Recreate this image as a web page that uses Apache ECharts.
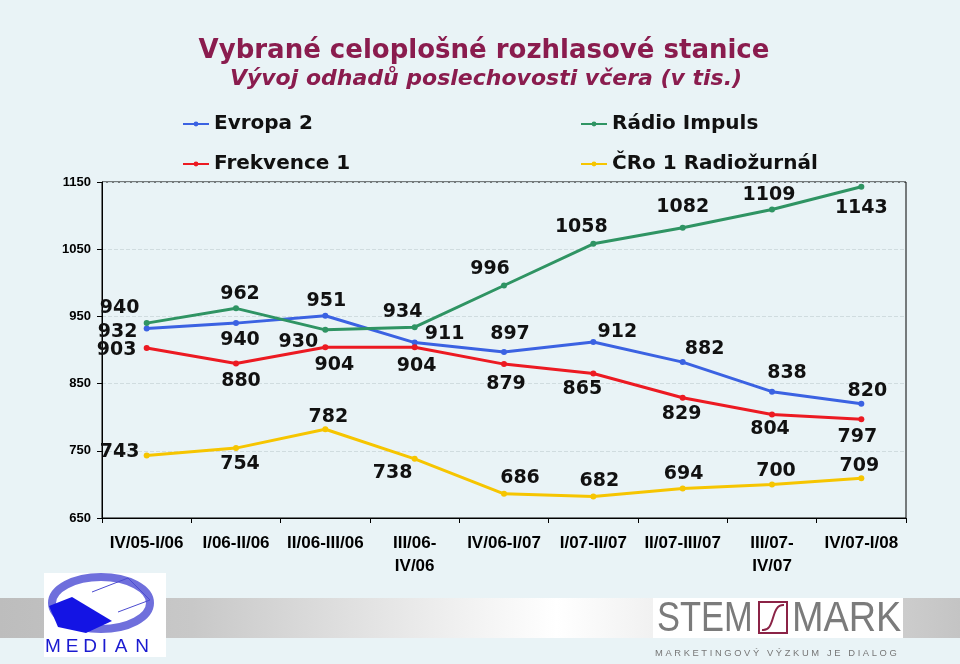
<!DOCTYPE html>
<html><head><meta charset="utf-8">
<script src="https://cdn.jsdelivr.net/npm/echarts@6/dist/echarts.min.js"></script>
<style>html,body{margin:0;padding:0;background:#e9f3f6;}#c{width:960px;height:664px;}</style>
</head><body><div id="c"></div>
<script>
// ---- data ----
const categories = ['IV/05-I/06','I/06-II/06','II/06-III/06','III/06-IV/06','IV/06-I/07','I/07-II/07','II/07-III/07','III/07-IV/07','IV/07-I/08'];
const evropa2 = [932, 940, 951, 911, 897, 912, 882, 838, 820];
const radioImpuls = [940, 962, 930, 934, 996, 1058, 1082, 1109, 1143];
const frekvence1 = [903, 880, 904, 904, 879, 865, 829, 804, 797];
const cro1 = [743, 754, 782, 738, 686, 682, 694, 700, 709];
const yTicks = [650, 750, 850, 950, 1050, 1150];
const seriesNames = ['Evropa 2', 'Rádio Impuls', 'Frekvence 1', 'ČRo 1 Radiožurnál'];

// ---- label placement (style only) ----
const evropaOff = [[-29,4],[4,17],[1,-15],[30,-9],[6,-18],[24,-10],[22,-13],[15,-19],[6,-13]];
const impulsOff = [[-27,-15],[4,-14],[-27,12],[-12,-15],[-14,-16],[-12,-17],[0,-21],[-3,-14],[0,21]];
const frekOff = [[-30,2],[5,18],[9,18],[2,19],[2,20],[-11,16],[-1,16],[-2,15],[-4,18]];
const croOff = [[-27,-3],[4,16],[3,-12],[-22,14],[16,-16],[6,-15],[1,-14],[4,-13],[-2,-12]];

const colors = {'Evropa 2':'#3b62e2','Rádio Impuls':'#2f9463','Frekvence 1':'#ec1a22','ČRo 1 Radiožurnál':'#f6c500'};

function mkSeries(name, values, offs){
  return {
    name: name, type: 'line', symbol: 'circle', symbolSize: 6,
    itemStyle: {color: colors[name]},
    lineStyle: {color: colors[name], width: 3},
    label: {show: true, position: 'inside', fontFamily: 'DejaVu Sans', fontWeight: 'bold', fontSize: 19, color: '#111'},
    emphasis: {disabled: true},
    data: values.map((v, i) => ({value: v, label: {offset: offs[i]}}))
  };
}

const legendText = {fontFamily: 'DejaVu Sans', fontWeight: 'bold', fontSize: 20, color: '#111', lineHeight: 20};
const fontAx = 'Liberation Sans';

const medianLetters = ['M','E','D','I','A','N'];
const medianX = [53, 72, 90, 104.5, 121, 142];

const option = {
  backgroundColor: '#e9f3f6',
  animation: false,
  legend: [
    {data: ['Evropa 2','Frekvence 1'], orient: 'vertical', left: 182, top: 114, padding: 0, itemGap: 20, itemWidth: 26, itemHeight: 6, textStyle: legendText, selectedMode: false},
    {data: ['Rádio Impuls','ČRo 1 Radiožurnál'], orient: 'vertical', left: 580, top: 114, padding: 0, itemGap: 20, itemWidth: 26, itemHeight: 6, textStyle: legendText, selectedMode: false}
  ],
  grid: {left: 102, right: 54, top: 182, bottom: 146, show: true, borderColor: '#000', borderWidth: 1, backgroundColor: 'transparent'},
  xAxis: {
    type: 'category', data: categories, boundaryGap: true,
    axisLine: {lineStyle: {color: '#000', width: 1}},
    axisTick: {show: true, length: 5, lineStyle: {color: '#000'}},
    axisLabel: {interval: 0, margin: 14, fontFamily: fontAx, fontWeight: 'bold', fontSize: 17, color: '#000', lineHeight: 23,
      formatter: v => v.startsWith('III/') ? v.replace('-', '-\n') : v}
  },
  yAxis: {
    type: 'value', min: 650, max: 1150,
    axisLine: {show: true, lineStyle: {color: '#000', width: 1}},
    axisTick: {show: true, length: 5, lineStyle: {color: '#000'}, customValues: yTicks},
    axisLabel: {customValues: yTicks, margin: 11, fontFamily: fontAx, fontWeight: 'bold', fontSize: 13, color: '#000',
      formatter: v => String(v)},
    splitLine: {show: true, lineStyle: {color: '#d0dcdf', type: 'dashed', width: 1}}
  },
  series: [
    mkSeries('Evropa 2', evropa2, evropaOff),
    mkSeries('Rádio Impuls', radioImpuls, impulsOff),
    mkSeries('Frekvence 1', frekvence1, frekOff),
    mkSeries('ČRo 1 Radiožurnál', cro1, croOff)
  ],
  graphic: [
    {type: 'text', x: 484, y: 51, style: {text: 'Vybrané celoplošné rozhlasové stanice', font: 'bold 26px "DejaVu Sans"', fill: '#8a1c4e', textAlign: 'center', textVerticalAlign: 'middle'}},
    {type: 'text', x: 486, y: 79, style: {text: 'Vývoj odhadů poslechovosti včera (v tis.)', font: 'italic bold 22px "DejaVu Sans"', fill: '#8a1c4e', textAlign: 'center', textVerticalAlign: 'middle'}},
    // grey band behind logos
    {type: 'rect', z: -1, shape: {x: 0, y: 598, width: 960, height: 40},
      style: {fill: new echarts.graphic.LinearGradient(0, 0, 1, 0, [
        {offset: 0, color: '#bdbdbd'}, {offset: 0.2, color: '#c8c8c8'}, {offset: 0.58, color: '#ffffff'},
        {offset: 0.9, color: '#d2d2d2'}, {offset: 1, color: '#c4c4c4'}])}},
    // MEDIAN logo
    {type: 'rect', shape: {x: 44, y: 573, width: 122, height: 84}, style: {fill: '#ffffff'}},
    {type: 'ellipse', shape: {cx: 101, cy: 603, rx: 49, ry: 26}, style: {fill: '#ffffff', stroke: '#6f6fdc', lineWidth: 8}},
    {type: 'polygon', shape: {points: [[49,606],[72,597],[112,621],[86,633],[58,627]]}, style: {fill: '#1414e4'}},
    {type: 'polyline', shape: {points: [[92,592],[128,578],[150,600],[118,612]]}, style: {stroke: '#4b4bd0', lineWidth: 1, fill: 'none'}},
    ...medianLetters.map((ch, i) => ({type: 'text', x: medianX[i], y: 647, style: {text: ch, font: '19px "Liberation Sans"', fill: '#1a1ad0', textAlign: 'center', textVerticalAlign: 'middle'}})),
    // STEM MARK logo
    {type: 'rect', shape: {x: 653, y: 598, width: 250, height: 40}, style: {fill: '#ffffff'}},
    {type: 'text', x: 657, y: 619, scaleX: 0.82, style: {text: 'STEM', font: '42px "Liberation Sans"', fill: '#7b7b7b', textVerticalAlign: 'middle'}},
    {type: 'rect', shape: {x: 759, y: 602, width: 28, height: 31}, style: {fill: '#ffffff', stroke: '#8b2346', lineWidth: 2}},
    {type: 'bezierCurve', shape: {x1: 762, y1: 630, cpx1: 776, cpy1: 632, cpx2: 770, cpy2: 604, x2: 784, y2: 605}, style: {stroke: '#8b2346', lineWidth: 2, fill: 'none'}},
    {type: 'text', x: 792, y: 619, scaleX: 0.9, style: {text: 'MARK', font: '42px "Liberation Sans"', fill: '#7b7b7b', textVerticalAlign: 'middle'}},
    {type: 'text', x: 655, y: 653, style: {text: 'M A R K E T I N G O V Ý   V Ý Z K U M   J E   D I A L O G', font: '9.4px "Liberation Sans"', fill: '#777777', textVerticalAlign: 'middle'}}
  ]
};

const chart = echarts.init(document.getElementById('c'), null, {renderer: 'canvas'});
chart.setOption(option);
</script>
</body></html>
